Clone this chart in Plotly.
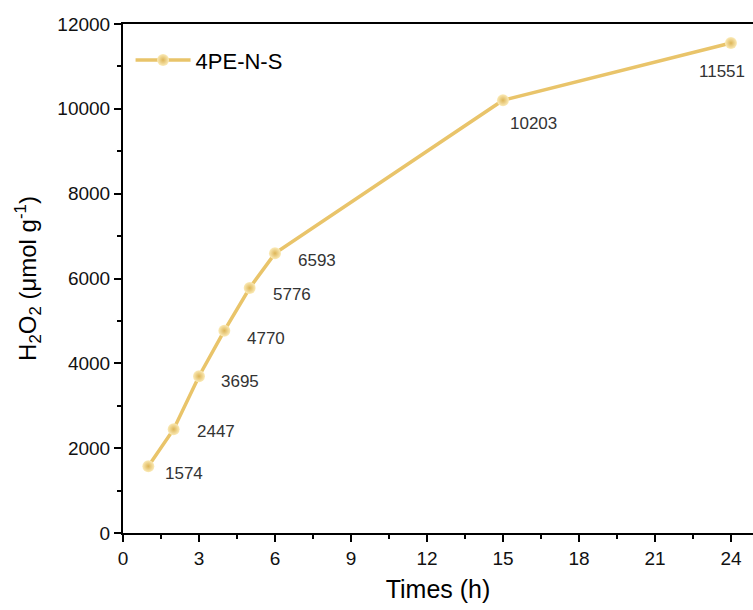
import plotly.graph_objects as go

times = [1, 2, 3, 4, 5, 6, 15, 24]
h2o2 = [1574, 2447, 3695, 4770, 5776, 6593, 10203, 11551]
series_name = "4PE-N-S"
x_ticks = [0, 3, 6, 9, 12, 15, 18, 21, 24]
y_ticks = [0, 2000, 4000, 6000, 8000, 10000, 12000]

# pixel offsets of value labels relative to points (dx right, dy down)
label_dx = [36, 42, 41, 42, 42, 42, 31, -9]
label_dy = [7, 2, 5, 8, 6, 7, 23, 28]

gold = "#E9C46A"
font_family = "Liberation Sans, Arial, sans-serif"

fig = go.Figure()
fig.add_trace(go.Scatter(
    x=times, y=h2o2, mode="lines+markers", name=series_name,
    line=dict(color=gold, width=3.5),
    marker=dict(size=12, color="#FBEBB8", symbol="circle",
                gradient=dict(type="radial", color="#DDB557"),
                line=dict(width=0)),
))

for xv, yv, dx, dy in zip(times, h2o2, label_dx, label_dy):
    fig.add_annotation(x=xv, y=yv, text=str(yv), showarrow=False,
                       xshift=dx, yshift=-dy,
                       font=dict(size=17, color="#333333", family=font_family))

fig.update_layout(
    width=753, height=610,
    margin=dict(l=123, r=0, t=24, b=77),
    paper_bgcolor="white", plot_bgcolor="white",
    font=dict(family=font_family, color="black"),
    showlegend=True,
    legend=dict(x=0.012, y=0.929, xanchor="left", yanchor="middle",
                font=dict(size=22, color="black", family=font_family),
                bgcolor="rgba(0,0,0,0)", itemwidth=55),
    xaxis=dict(
        range=[0, 24.87], tickvals=x_ticks, ticktext=[str(t) for t in x_ticks],
        showline=True, linecolor="black", linewidth=2, mirror=True,
        ticks="outside", ticklen=7, tickwidth=2, tickcolor="black",
        minor=dict(dtick=1.5, tick0=0, ticks="outside", ticklen=4, tickwidth=2, tickcolor="black"),
        showgrid=False, zeroline=False,
        tickfont=dict(size=19, color="#111111"),
        title=dict(text="Times (h)", font=dict(size=25, color="black"), standoff=13),
    ),
    yaxis=dict(
        range=[0, 12000], tickvals=y_ticks, ticktext=[str(t) for t in y_ticks],
        showline=True, linecolor="black", linewidth=2, mirror=False,
        ticks="outside", ticklen=7, tickwidth=2, tickcolor="black",
        minor=dict(dtick=1000, tick0=0, ticks="outside", ticklen=4, tickwidth=2, tickcolor="black"),
        showgrid=False, zeroline=False,
        tickfont=dict(size=19, color="#111111"),
        title=dict(text="H<sub>2</sub>O<sub>2</sub> (μmol g<sup>-1</sup>)",
                   font=dict(size=24, color="black"), standoff=14),
    ),
)

fig.write_html("out.html")
